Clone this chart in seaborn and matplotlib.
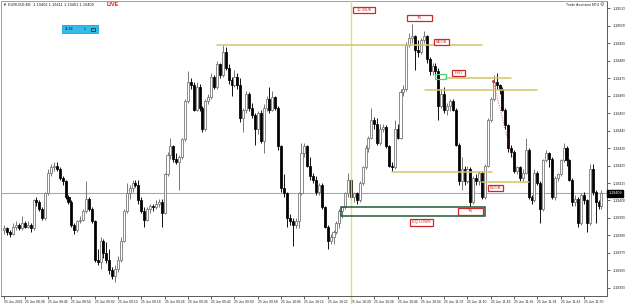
import matplotlib
matplotlib.use("Agg")
import matplotlib.pyplot as plt
from matplotlib.patches import Rectangle
import numpy as np
import pandas as pd
import seaborn as sns

# ---------------- data (EURUSD M1, 25 Jun 2021, first bar 08:31) ----------------
opens = [1.19388, 1.19389, 1.19387, 1.19386, 1.19390, 1.19391, 1.19389, 1.19392, 1.19390, 1.19391,
         1.19389, 1.19405, 1.19404, 1.19400, 1.19395, 1.19409, 1.19421, 1.19424, 1.19425, 1.19423,
         1.19418, 1.19416, 1.19407, 1.19404, 1.19391, 1.19388, 1.19393, 1.19394, 1.19399, 1.19406,
         1.19400, 1.19393, 1.19371, 1.19370, 1.19382, 1.19375, 1.19371, 1.19365, 1.19362, 1.19366,
         1.19371, 1.19382, 1.19399, 1.19409, 1.19412, 1.19415, 1.19414, 1.19405, 1.19399, 1.19394,
         1.19400, 1.19402, 1.19401, 1.19403, 1.19404, 1.19398, 1.19420, 1.19431, 1.19436, 1.19429,
         1.19427, 1.19430, 1.19440, 1.19462, 1.19473, 1.19471, 1.19457, 1.19470, 1.19458, 1.19446,
         1.19462, 1.19464, 1.19476, 1.19470, 1.19483, 1.19477, 1.19490, 1.19481, 1.19474, 1.19471,
         1.19476, 1.19471, 1.19452, 1.19457, 1.19466, 1.19458, 1.19454, 1.19446, 1.19455, 1.19439,
         1.19458, 1.19463, 1.19457, 1.19464, 1.19458, 1.19436, 1.19412, 1.19409, 1.19395, 1.19393,
         1.19391, 1.19393, 1.19409, 1.19432, 1.19436, 1.19425, 1.19419, 1.19417, 1.19410, 1.19414,
         1.19401, 1.19390, 1.19382, 1.19384, 1.19387, 1.19392, 1.19399, 1.19401, 1.19409, 1.19417,
         1.19407, 1.19409, 1.19405, 1.19415, 1.19424, 1.19435, 1.19441, 1.19451, 1.19449, 1.19438,
         1.19446, 1.19447, 1.19436, 1.19425, 1.19424, 1.19446, 1.19441, 1.19467, 1.19469, 1.19494,
         1.19498, 1.19499, 1.19491, 1.19490, 1.19497, 1.19499, 1.19486, 1.19479, 1.19482, 1.19479,
         1.19459, 1.19466, 1.19457, 1.19459, 1.19462, 1.19457, 1.19437, 1.19416, 1.19423, 1.19416,
         1.19423, 1.19404, 1.19418, 1.19416, 1.19421, 1.19407, 1.19425, 1.19451, 1.19463, 1.19473,
         1.19471, 1.19469, 1.19457, 1.19448, 1.19435, 1.19433, 1.19422, 1.19424, 1.19418, 1.19421,
         1.19434, 1.19407, 1.19405, 1.19421, 1.19415, 1.19400, 1.19428, 1.19432, 1.19429, 1.19407,
         1.19418, 1.19420, 1.19428, 1.19435, 1.19428, 1.19417, 1.19404, 1.19406, 1.19392, 1.19408,
         1.19405, 1.19392, 1.19423, 1.19410, 1.19404, 1.19402]

closes = [1.19389, 1.19387, 1.19386, 1.19390, 1.19391, 1.19389, 1.19392, 1.19390, 1.19391, 1.19389,
          1.19405, 1.19404, 1.19400, 1.19395, 1.19409, 1.19421, 1.19424, 1.19425, 1.19423, 1.19418,
          1.19416, 1.19407, 1.19404, 1.19391, 1.19388, 1.19393, 1.19394, 1.19399, 1.19406, 1.19400,
          1.19393, 1.19371, 1.19370, 1.19382, 1.19375, 1.19371, 1.19365, 1.19362, 1.19366, 1.19371,
          1.19382, 1.19399, 1.19409, 1.19412, 1.19415, 1.19414, 1.19405, 1.19399, 1.19394, 1.19400,
          1.19402, 1.19401, 1.19403, 1.19404, 1.19398, 1.19420, 1.19431, 1.19436, 1.19429, 1.19427,
          1.19430, 1.19440, 1.19462, 1.19473, 1.19471, 1.19457, 1.19470, 1.19458, 1.19446, 1.19462,
          1.19464, 1.19476, 1.19470, 1.19483, 1.19477, 1.19490, 1.19481, 1.19474, 1.19471, 1.19476,
          1.19471, 1.19452, 1.19457, 1.19466, 1.19458, 1.19454, 1.19446, 1.19455, 1.19439, 1.19458,
          1.19463, 1.19457, 1.19464, 1.19458, 1.19436, 1.19412, 1.19409, 1.19395, 1.19393, 1.19391,
          1.19393, 1.19409, 1.19432, 1.19436, 1.19425, 1.19419, 1.19417, 1.19410, 1.19414, 1.19401,
          1.19390, 1.19382, 1.19384, 1.19387, 1.19392, 1.19399, 1.19401, 1.19409, 1.19417, 1.19407,
          1.19409, 1.19405, 1.19415, 1.19424, 1.19435, 1.19441, 1.19451, 1.19449, 1.19438, 1.19446,
          1.19447, 1.19436, 1.19425, 1.19424, 1.19446, 1.19441, 1.19467, 1.19469, 1.19494, 1.19498,
          1.19499, 1.19491, 1.19490, 1.19497, 1.19499, 1.19486, 1.19479, 1.19482, 1.19479, 1.19459,
          1.19466, 1.19457, 1.19459, 1.19462, 1.19457, 1.19437, 1.19416, 1.19423, 1.19416, 1.19423,
          1.19404, 1.19418, 1.19416, 1.19421, 1.19407, 1.19425, 1.19451, 1.19463, 1.19473, 1.19471,
          1.19469, 1.19457, 1.19448, 1.19435, 1.19433, 1.19422, 1.19424, 1.19418, 1.19421, 1.19434,
          1.19407, 1.19405, 1.19421, 1.19415, 1.19400, 1.19428, 1.19432, 1.19429, 1.19407, 1.19418,
          1.19420, 1.19428, 1.19435, 1.19428, 1.19417, 1.19404, 1.19406, 1.19392, 1.19408, 1.19405,
          1.19392, 1.19423, 1.19410, 1.19404, 1.19402, 1.19409]

highs = [1.19391, 1.19390, 1.19388, 1.19392, 1.19393, 1.19392, 1.19396, 1.19393, 1.19393, 1.19392,
         1.19406, 1.19407, 1.19405, 1.19401, 1.19410, 1.19423, 1.19426, 1.19427, 1.19427, 1.19424,
         1.19419, 1.19417, 1.19408, 1.19405, 1.19392, 1.19394, 1.19396, 1.19400, 1.19416, 1.19407,
         1.19401, 1.19394, 1.19377, 1.19384, 1.19383, 1.19381, 1.19377, 1.19367, 1.19368, 1.19373,
         1.19384, 1.19400, 1.19415, 1.19414, 1.19417, 1.19417, 1.19417, 1.19407, 1.19401, 1.19401,
         1.19403, 1.19403, 1.19405, 1.19406, 1.19406, 1.19421, 1.19433, 1.19441, 1.19437, 1.19432,
         1.19431, 1.19441, 1.19463, 1.19479, 1.19475, 1.19473, 1.19473, 1.19472, 1.19459, 1.19463,
         1.19466, 1.19478, 1.19477, 1.19485, 1.19484, 1.19494, 1.19493, 1.19483, 1.19476, 1.19480,
         1.19478, 1.19475, 1.19458, 1.19468, 1.19467, 1.19461, 1.19455, 1.19456, 1.19457, 1.19460,
         1.19465, 1.19470, 1.19468, 1.19465, 1.19459, 1.19437, 1.19420, 1.19410, 1.19397, 1.19395,
         1.19395, 1.19410, 1.19438, 1.19438, 1.19437, 1.19430, 1.19421, 1.19419, 1.19415, 1.19415,
         1.19402, 1.19391, 1.19386, 1.19388, 1.19393, 1.19400, 1.19402, 1.19410, 1.19421, 1.19418,
         1.19410, 1.19410, 1.19416, 1.19425, 1.19437, 1.19442, 1.19458, 1.19453, 1.19452, 1.19449,
         1.19449, 1.19448, 1.19437, 1.19427, 1.19451, 1.19449, 1.19469, 1.19471, 1.19496, 1.19501,
         1.19506, 1.19500, 1.19497, 1.19498, 1.19502, 1.19500, 1.19487, 1.19484, 1.19484, 1.19481,
         1.19469, 1.19470, 1.19461, 1.19463, 1.19463, 1.19458, 1.19438, 1.19430, 1.19425, 1.19425,
         1.19424, 1.19419, 1.19420, 1.19422, 1.19422, 1.19426, 1.19452, 1.19464, 1.19477, 1.19478,
         1.19472, 1.19470, 1.19458, 1.19449, 1.19437, 1.19434, 1.19425, 1.19425, 1.19423, 1.19441,
         1.19435, 1.19408, 1.19423, 1.19422, 1.19416, 1.19429, 1.19434, 1.19433, 1.19430, 1.19419,
         1.19421, 1.19429, 1.19438, 1.19436, 1.19429, 1.19418, 1.19408, 1.19407, 1.19409, 1.19410,
         1.19406, 1.19426, 1.19426, 1.19411, 1.19405, 1.19411]

lows = [1.19386, 1.19385, 1.19384, 1.19385, 1.19388, 1.19388, 1.19388, 1.19389, 1.19389, 1.19387,
        1.19388, 1.19402, 1.19399, 1.19394, 1.19394, 1.19408, 1.19419, 1.19422, 1.19422, 1.19417,
        1.19414, 1.19406, 1.19403, 1.19390, 1.19386, 1.19387, 1.19392, 1.19393, 1.19398, 1.19399,
        1.19392, 1.19370, 1.19368, 1.19366, 1.19372, 1.19369, 1.19363, 1.19360, 1.19358, 1.19364,
        1.19370, 1.19381, 1.19398, 1.19406, 1.19410, 1.19413, 1.19403, 1.19398, 1.19390, 1.19393,
        1.19398, 1.19399, 1.19400, 1.19401, 1.19390, 1.19397, 1.19419, 1.19429, 1.19427, 1.19426,
        1.19411, 1.19429, 1.19439, 1.19461, 1.19469, 1.19456, 1.19456, 1.19456, 1.19444, 1.19445,
        1.19460, 1.19463, 1.19469, 1.19469, 1.19475, 1.19476, 1.19480, 1.19472, 1.19465, 1.19470,
        1.19469, 1.19450, 1.19444, 1.19455, 1.19456, 1.19452, 1.19437, 1.19443, 1.19438, 1.19432,
        1.19456, 1.19455, 1.19456, 1.19457, 1.19434, 1.19410, 1.19407, 1.19390, 1.19391, 1.19379,
        1.19389, 1.19389, 1.19408, 1.19430, 1.19424, 1.19417, 1.19415, 1.19408, 1.19408, 1.19400,
        1.19389, 1.19377, 1.19380, 1.19380, 1.19386, 1.19389, 1.19395, 1.19400, 1.19407, 1.19405,
        1.19404, 1.19403, 1.19404, 1.19414, 1.19423, 1.19433, 1.19440, 1.19446, 1.19437, 1.19437,
        1.19444, 1.19435, 1.19424, 1.19422, 1.19423, 1.19440, 1.19440, 1.19465, 1.19468, 1.19493,
        1.19495, 1.19480, 1.19487, 1.19489, 1.19495, 1.19484, 1.19477, 1.19477, 1.19476, 1.19451,
        1.19458, 1.19455, 1.19454, 1.19456, 1.19456, 1.19436, 1.19414, 1.19411, 1.19414, 1.19415,
        1.19402, 1.19403, 1.19414, 1.19414, 1.19406, 1.19406, 1.19424, 1.19450, 1.19462, 1.19469,
        1.19466, 1.19456, 1.19446, 1.19433, 1.19430, 1.19421, 1.19420, 1.19416, 1.19416, 1.19420,
        1.19406, 1.19403, 1.19404, 1.19414, 1.19392, 1.19399, 1.19427, 1.19424, 1.19406, 1.19405,
        1.19416, 1.19419, 1.19427, 1.19425, 1.19416, 1.19402, 1.19402, 1.19390, 1.19391, 1.19403,
        1.19387, 1.19391, 1.19408, 1.19392, 1.19400, 1.19400]

time_labels = ["25 Jun 2021", "25 Jun 08:38", "25 Jun 08:46", "25 Jun 08:54", "25 Jun 09:02",
               "25 Jun 09:10", "25 Jun 09:18", "25 Jun 09:26", "25 Jun 09:34", "25 Jun 09:42",
               "25 Jun 09:50", "25 Jun 09:58", "25 Jun 10:06", "25 Jun 10:14", "25 Jun 10:22",
               "25 Jun 10:30", "25 Jun 10:38", "25 Jun 10:46", "25 Jun 10:54", "25 Jun 11:02",
               "25 Jun 11:10", "25 Jun 11:18", "25 Jun 11:26", "25 Jun 11:34", "25 Jun 11:42",
               "25 Jun 11:50"]
time_label_bars = [0, 7, 15, 23, 31, 39, 47, 55, 63, 71, 79, 87, 95, 103, 111, 119, 127, 135,
                   143, 151, 159, 167, 175, 183, 191, 199]
price_ticks = [1.19355, 1.19365, 1.19375, 1.19385, 1.19395, 1.19405, 1.19415, 1.19425, 1.19435,
               1.19445, 1.19455, 1.19465, 1.19475, 1.19485, 1.19495, 1.19505, 1.19515]
current_price = 1.19409
session_bar = 119  # 10:30 UK

# key levels: (price, from bar, to bar)
levels = [(1.19494, 73.0, 164.0), (1.194753, 151.5, 174.0), (1.194683, 144.4, 183.0),
          (1.194213, 133.0, 167.4), (1.194156, 164.0, 180.0)]
# labels: (text, left bar, right bar, centre price)
labels = [("10:30UK", 119.7, 127.2, 1.195141), ("TS", 138.2, 146.8, 1.195096),
          ("BEOB", 147.5, 152.7, 1.194958), ("FVG", 153.7, 158.2, 1.194780),
          ("BUOB", 166.0, 171.2, 1.194121), ("TS", 155.7, 164.3, 1.193987),
          ("EQ LOWS", 139.3, 147.2, 1.193924)]

# ---------------- figure ----------------
sns.set_theme(style="white")
plt.rcParams["font.family"] = ["Liberation Sans", "DejaVu Sans"]

W, H = 625, 304
fig = plt.figure(figsize=(W / 100, H / 100), dpi=100)
fig.patch.set_facecolor("white")
ax = fig.add_axes([1 / W, 8 / H, 606 / W, 295 / H])
ax.set_facecolor("white")

df = pd.DataFrame({"open": opens, "high": highs, "low": lows, "close": closes})
df["bar"] = np.arange(len(df))
up = df["close"] >= df["open"]

ax.axhline(current_price, color="#a9a9a9", lw=0.8, zorder=1)

wick_cols = np.where(up, "#6e6e6e", "#000000")
ax.vlines(df["bar"], df["low"], df["high"], colors=wick_cols, lw=0.65, zorder=2)
body_h = (df["close"] - df["open"]).abs().clip(lower=0.000004)
body_b = df[["open", "close"]].min(axis=1)
ax.bar(df["bar"], body_h, bottom=body_b, width=0.7,
       color=np.where(up, "white", "black"),
       edgecolor=np.where(up, "#6e6e6e", "black"), linewidth=0.55, zorder=3)

# session line
ax.axvline(session_bar, color="#e3da6c", lw=1.0, zorder=4, alpha=0.9)
ax.plot([session_bar, session_bar], [-0.03, 0], transform=ax.get_xaxis_transform(),
        color="#e3da6c", lw=1.0, clip_on=False)

for p, a, b in levels:
    ax.plot([a, b], [p, p], color="#cfc868", lw=1.1, zorder=4)

# EQ lows zone and FVG box
ax.add_patch(Rectangle((115.6, 1.193962), 165.0 - 115.6, 0.000051, fill=False,
                       edgecolor="#1f5a33", lw=1.1, zorder=5))
ax.add_patch(Rectangle((147.8, 1.194746), 3.8, 0.000029, fill=False,
                       edgecolor="#49d47a", lw=0.9, zorder=5))
# red dotted projection
ax.plot([167.8, 174.3], [1.194735, 1.19430], color="#d42020", lw=0.6, ls=(0, (1, 2)), zorder=5)
sns.scatterplot(x=[167.8], y=[1.194735], color="#d42020", s=4, linewidth=0, ax=ax, zorder=6)

for txt, a, b, p in labels:
    hh = 0.000038
    ax.add_patch(Rectangle((a, p - hh / 2), b - a, hh, facecolor="white",
                           edgecolor="#d02828", lw=0.9, zorder=7))
    ax.text((a + b) / 2, p, txt, color="#d02828", fontsize=2.9, ha="center", va="center", zorder=8)

# axes limits / ticks
ax.set_xlim(-1.17, 206.9)
ax.set_ylim(1.1935026, 1.1951929)
ax.yaxis.tick_right()
ax.set_yticks(price_ticks)
ax.set_yticklabels([f"{v:.5f}" for v in price_ticks])
ax.set_xticks(time_label_bars)
ax.set_xticklabels(time_labels)
ax.tick_params(axis="y", which="both", right=True, left=False, length=2, width=0.5,
               pad=2, labelsize=2.7, colors="#202020")
ax.tick_params(axis="x", which="both", bottom=True, length=2, width=0.5, pad=1,
               labelsize=2.4, colors="#202020")
for lab in ax.get_xticklabels():
    lab.set_horizontalalignment("left")
ax.grid(False)
for side, sp in ax.spines.items():
    sp.set_linewidth(0.7)
    sp.set_color("#5a5a5a" if side in ("right", "bottom") else "#a0a0a0")

# current price tag on axis
ax.text(1.0025, current_price, f"{current_price:.5f}", transform=ax.get_yaxis_transform(),
        fontsize=2.7, color="white", va="center", ha="left", zorder=9,
        bbox=dict(boxstyle="square,pad=0.35", facecolor="black", edgecolor="black"))

# header texts
def px(x, y):
    return x / W, 1 - y / H

fig.text(*px(3, 4.5), "\u25bc EURUSD,M1  1.19402 1.19411 1.19401 1.19409", fontsize=2.8,
         color="#202020", va="center", ha="left")
fig.text(*px(107, 4.5), "LIVE", fontsize=4.0, fontweight="bold", color="#d11a1a",
         va="center", ha="left")
fig.text(*px(599, 4.5), "Trade Assistant MT4", fontsize=2.6, color="#303030",
         va="center", ha="right")
fig.text(*px(600, 4.5), "\u2699", fontsize=3.5, color="#505050", va="center", ha="left",
         family="DejaVu Sans")
fig.patches.append(Rectangle(px(62, 33), 36 / W, 8 / H, transform=fig.transFigure,
                             facecolor="#34bdec", edgecolor="#1c9fd0", lw=0.6))
fig.text(*px(65, 29), "11:56", fontsize=2.6, color="#1a1a1a", va="center", ha="left")
fig.text(*px(84, 29), "1", fontsize=2.6, color="#1a1a1a", va="center", ha="left")
fig.patches.append(Rectangle(px(91, 31), 4 / W, 3.5 / H, transform=fig.transFigure,
                             facecolor="none", edgecolor="#1a1a1a", lw=0.5))

fig.savefig("out.png", dpi=100, facecolor="white")
